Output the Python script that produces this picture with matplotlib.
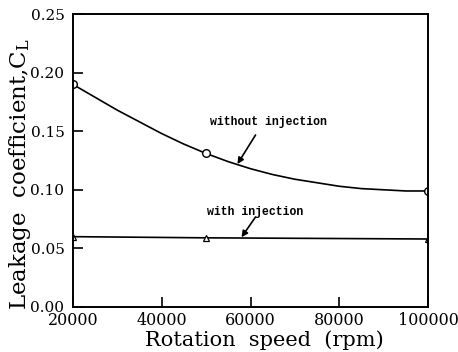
import matplotlib
matplotlib.use("Agg")
import matplotlib.pyplot as plt

# measured points (markers)
speed = [20000, 50000, 100000]
cl_without = [0.190, 0.131, 0.099]
cl_with = [0.060, 0.059, 0.058]

# smooth fitted curve through "without injection"
curve_speed = [20000, 25000, 30000, 35000, 40000, 45000, 50000, 55000, 60000,
               65000, 70000, 75000, 80000, 85000, 90000, 95000, 100000]
curve_without = [0.190, 0.179, 0.168, 0.158, 0.148, 0.139, 0.131, 0.124, 0.118,
                 0.113, 0.109, 0.106, 0.103, 0.101, 0.100, 0.099, 0.099]

xticks = [20000, 40000, 60000, 80000, 100000]
yticks = [0.00, 0.05, 0.10, 0.15, 0.20, 0.25]

plt.rcParams["font.family"] = "DejaVu Serif"
plt.rcParams["mathtext.fontset"] = "dejavuserif"

fig = plt.figure(figsize=(4.58, 3.52), dpi=100)
ax = fig.add_axes([0.159, 0.128, 0.776, 0.832])

ax.plot(curve_speed, curve_without, color="black", lw=1.2)
ax.plot(speed, cl_without, linestyle="none", marker="o", markersize=5.5,
        markerfacecolor="white", markeredgecolor="black", markeredgewidth=1.0)
ax.plot(speed, cl_with, color="black", lw=1.2, marker="^", markersize=4.5,
        markerfacecolor="white", markeredgecolor="black", markeredgewidth=0.9)

mono = dict(family="Liberation Mono", fontweight="bold", fontsize=8.3)
ax.text(50960, 0.158, "without injection", va="center", ha="left", **mono)
ax.text(50280, 0.0813, "with injection", va="center", ha="left", **mono)
arrow = dict(arrowstyle="-|>", color="black", lw=1.2, mutation_scale=9,
             shrinkA=0, shrinkB=0)
ax.annotate("", xy=(57060, 0.122), xytext=(61130, 0.1468), arrowprops=arrow)
ax.annotate("", xy=(57970, 0.0595), xytext=(61130, 0.0768), arrowprops=arrow)

ax.set_xlim(20000, 100000)
ax.set_ylim(0, 0.25)
ax.set_xticks(xticks)
ax.set_yticks(yticks)
ax.set_xticklabels([str(v) for v in xticks], fontsize=11.5)
ax.set_yticklabels(["%.2f" % v for v in yticks], fontsize=11)
ax.tick_params(direction="in", length=7, width=1.2)
ax.tick_params(axis="x", pad=4)
ax.tick_params(axis="y", pad=6)

for s in ax.spines.values():
    s.set_linewidth(1.4)

ax.set_xlabel("Rotation  speed  (rpm)", fontsize=15)
ax.set_ylabel("Leakage  coefficient,C$_\\mathrm{L}$", fontsize=16.5)
ax.xaxis.set_label_coords(0.538, -0.079)
ax.yaxis.set_label_coords(-0.113, 0.454)

plt.savefig("out.png", dpi=100)
